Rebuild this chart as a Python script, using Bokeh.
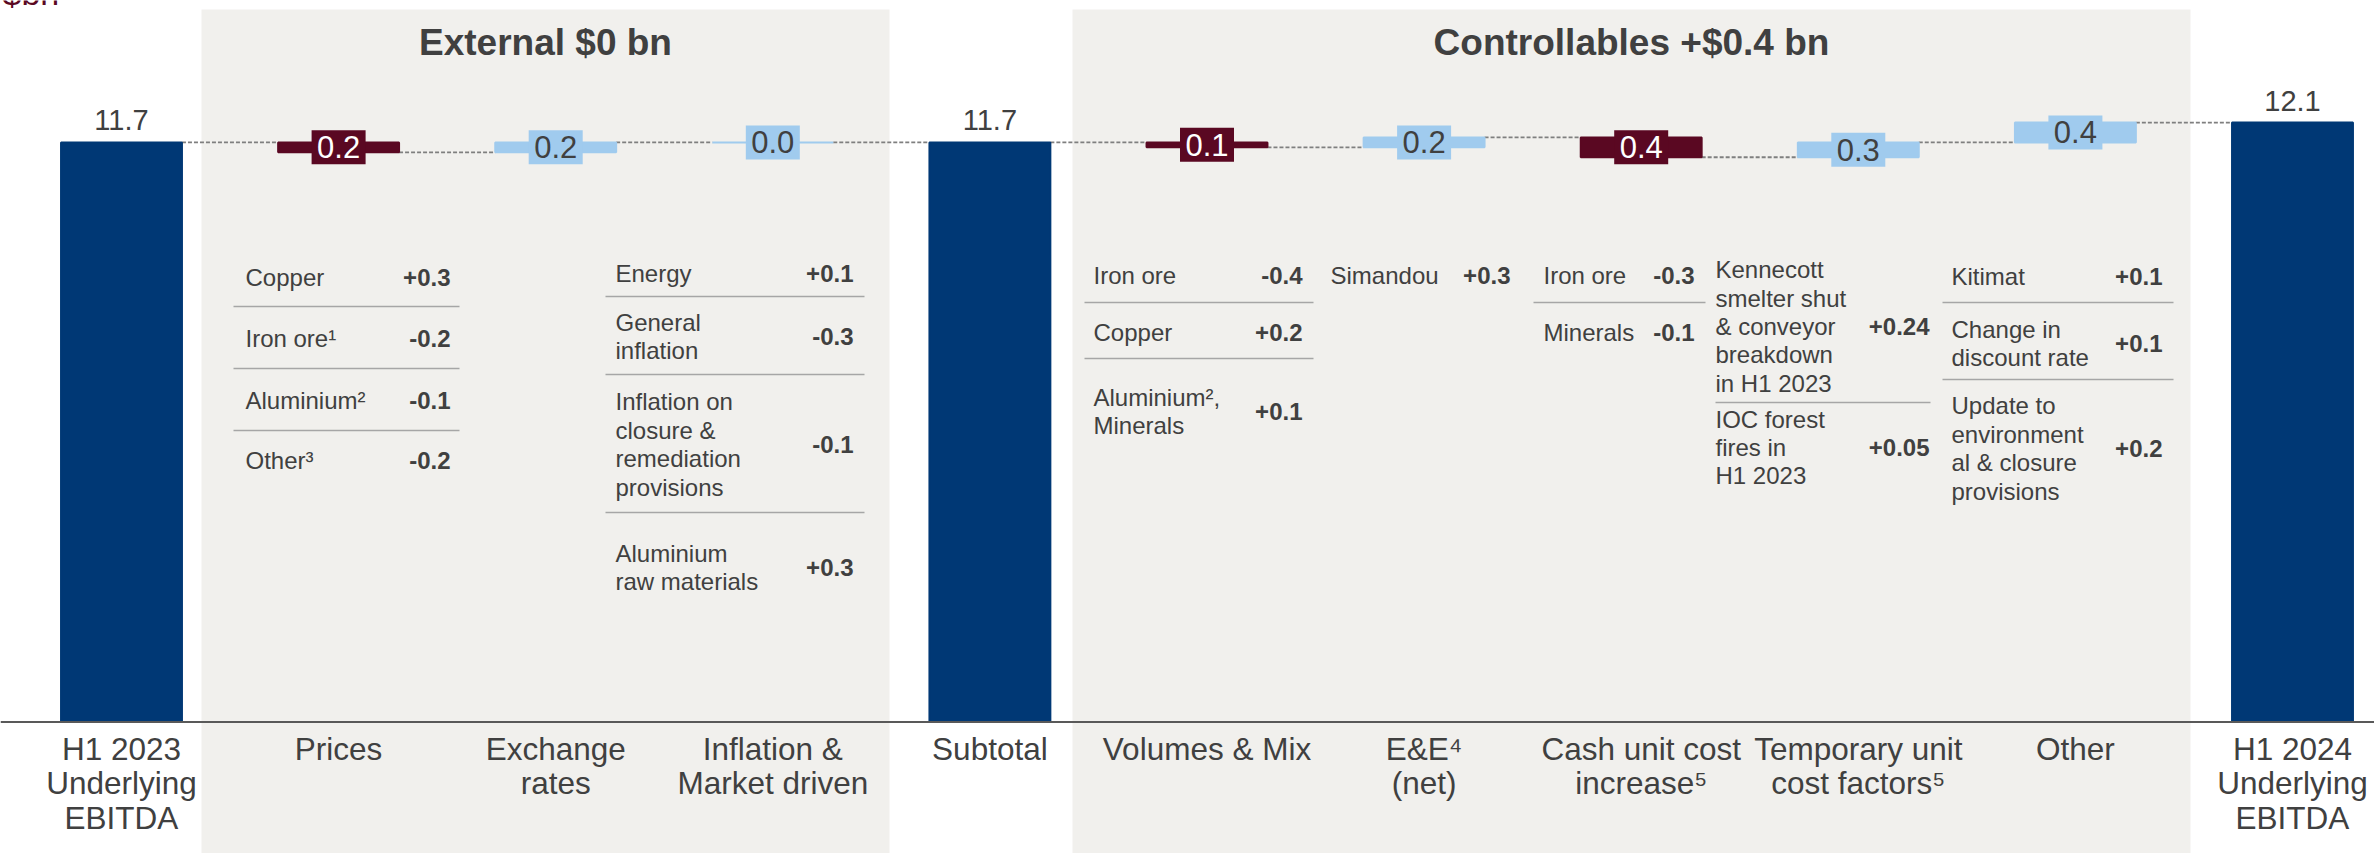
from bokeh.plotting import figure
from bokeh.models import Range1d, ColumnDataSource, Span
from bokeh.core.properties import value
from bokeh.embed import file_html
from bokeh.resources import INLINE

# ---------------- data ----------------
categories = ["H1 2023\nUnderlying\nEBITDA", "Prices", "Exchange\nrates", "Inflation &\nMarket driven",
              "Subtotal", "Volumes & Mix", "E&E\u2074\n(net)", "Cash unit cost\nincrease\u2075",
              "Temporary unit\ncost factors\u2075", "Other", "H1 2024\nUnderlying\nEBITDA"]
amounts = [11.7, -0.2, 0.2, 0.0, 11.7, -0.1, 0.2, -0.4, 0.3, 0.4, 12.1]
is_total = [True, False, False, False, True, False, False, False, False, False, True]

group_titles = ["External $0 bn", "Controllables +$0.4 bn"]
unit_label = "$bn"

prices_items = ["Copper", "Iron ore\u00b9", "Aluminium\u00b2", "Other\u00b3"]
prices_values = [0.3, -0.2, -0.1, -0.2]
inflation_items = ["Energy", "General\ninflation", "Inflation on\nclosure &\nremediation\nprovisions",
                   "Aluminium\nraw materials"]
inflation_values = [0.1, -0.3, -0.1, 0.3]
volumes_items = ["Iron ore", "Copper", "Aluminium\u00b2,\nMinerals"]
volumes_values = [-0.4, 0.2, 0.1]
ee_items = ["Simandou"]
ee_values = [0.3]
cash_items = ["Iron ore", "Minerals"]
cash_values = [-0.3, -0.1]
temporary_items = ["Kennecott\nsmelter shut\n& conveyor\nbreakdown\nin H1 2023", "IOC forest\nfires in\nH1 2023"]
temporary_values = [0.24, 0.05]
other_items = ["Kitimat", "Change in\ndiscount rate", "Update to\nenvironment\nal & closure\nprovisions"]
other_values = [0.1, 0.1, 0.2]

# ---------------- styles / layout ----------------
NAVY = "#003875"
DARKRED = "#5A0822"
LIGHTBLUE = "#A0CBEE"
PANEL = "#F1F0ED"
TXT = "#404040"
FONT = "Liberation Sans"
BAR_W = 0.557

W, H = 2374, 853
# pixel (in reference frame) -> data helpers
def dx(X):
    return (X - 121) / 217.1

def dy(Y):
    return (721.5 - Y) / 49.54

p = figure(width=W, height=H, output_backend="svg", toolbar_location=None,
           x_range=Range1d(dx(0), dx(W)), y_range=Range1d(dy(H), dy(0)),
           x_axis_location=None, y_axis_location=None, min_border=0)
p.grid.visible = False
p.outline_line_color = None
p.background_fill_color = "white"

# panels
p.quad(left=[dx(201), dx(1072)], right=[dx(889), dx(2190)], top=[dy(9), dy(9)],
       bottom=[dy(900), dy(900)], fill_color=PANEL, line_color=None)
p.text(x=[dx(545), dx(1631)], y=[dy(42), dy(42)], text=group_titles, text_font=value(FONT),
       text_font_size="37px", text_font_style="bold", text_color=TXT, text_align="center",
       text_baseline="middle")

# axis line
p.add_layout(Span(location=0, dimension="width", line_color="#595959", line_width=2))

# waterfall computation
xs = list(range(len(categories)))
bottoms, tops, ends, colors = [], [], [], []
running = 0.0
for a, t in zip(amounts, is_total):
    if t:
        b, tp = 0.0, a
    else:
        b, tp = running, running + a
    running = tp
    bottoms.append(b)
    tops.append(tp)
    ends.append(running)
    colors.append(NAVY if t else (DARKRED if a < 0 else LIGHTBLUE))

# connectors
p.segment(x0=[i + BAR_W / 2 for i in xs[:-1]], x1=[i + 1 - BAR_W / 2 for i in xs[:-1]],
          y0=ends[:-1], y1=ends[:-1], line_color="#7F7F7F", line_width=1.8, line_dash="4 2")

src = ColumnDataSource(dict(x=xs, bottom=bottoms, top=tops, color=colors))
p.vbar(x="x", bottom="bottom", top="top", width=BAR_W, fill_color="color", line_color="color",
       line_width=2, source=src)

# total labels
tx = [i for i, t in zip(xs, is_total) if t]
ty = [tp for tp, t in zip(tops, is_total) if t]
tl = [f"{a:.1f}" for a, t in zip(amounts, is_total) if t]
p.text(x=tx, y=ty, text=tl, y_offset=-22, text_font=value(FONT), text_font_size="29px",
       text_color=TXT, text_align="center", text_baseline="middle")

# delta label boxes
dxs = [i for i, t in zip(xs, is_total) if not t]
dmid = [(b + tp) / 2 for b, tp, t in zip(bottoms, tops, is_total) if not t]
dcol = [c for c, t in zip(colors, is_total) if not t]
dtxt = [f"{abs(a):.1f}" for a, t in zip(amounts, is_total) if not t]
dtc = ["white" if c == DARKRED else TXT for c in dcol]
p.rect(x=dxs, y=dmid, width=54, height=34, width_units="screen", height_units="screen",
       fill_color=dcol, line_color=None)
p.text(x=dxs, y=dmid, text=dtxt, text_color=dtc, text_font=value(FONT), text_font_size="31px",
       text_align="center", text_baseline="middle")

# category labels
p.text(x=xs, y=[dy(730)] * len(xs), text=categories, text_font=value(FONT), text_font_size="31.5px",
       text_color=TXT, text_align="center", text_baseline="top", text_line_height=0.97)

# unit label
p.text(x=[dx(2)], y=[dy(11)], text=[unit_label], text_font=value(FONT), text_font_size="34px",
       text_color=DARKRED, text_align="left", text_baseline="bottom")

# breakdown tables
tables = [
    (prices_items, prices_values, dict(lx=245, vx=450, x0=233, x1=459, rows=[277, 338, 400, 460], lines=[306, 368, 430])),
    (inflation_items, inflation_values, dict(lx=615, vx=853, x0=605, x1=864, rows=[273, 336, 444, 567], lines=[296, 374, 512])),
    (volumes_items, volumes_values, dict(lx=1093, vx=1302, x0=1084, x1=1313, rows=[275, 332, 411], lines=[302, 358])),
    (ee_items, ee_values, dict(lx=1330, vx=1510, x0=0, x1=0, rows=[275], lines=[])),
    (cash_items, cash_values, dict(lx=1543, vx=1694, x0=1533, x1=1705, rows=[275, 332], lines=[302])),
    (temporary_items, temporary_values, dict(lx=1715, vx=1929, x0=1715, x1=1930, rows=[326, 447], lines=[402])),
    (other_items, other_values, dict(lx=1951, vx=2162, x0=1942, x1=2173, rows=[276, 343, 448], lines=[302, 379])),
]
for items, vals, lay in tables:
    ry = [dy(r) for r in lay["rows"]]
    p.text(x=[dx(lay["lx"])] * len(items), y=ry, text=items, text_font=value(FONT),
           text_font_size="24px", text_color=TXT, text_align="left", text_baseline="middle",
           text_line_height=1.05)
    p.text(x=[dx(lay["vx"])] * len(vals), y=ry, text=[f"{v:+g}" for v in vals], text_font=value(FONT),
           text_font_size="24px", text_font_style="bold", text_color=TXT, text_align="right",
           text_baseline="middle")
    if lay["lines"]:
        ly = [dy(l) for l in lay["lines"]]
        p.segment(x0=[dx(lay["x0"])] * len(ly), x1=[dx(lay["x1"])] * len(ly), y0=ly, y1=ly,
                  line_color="#A6A6A6", line_width=1.5)

open("out.html", "w").write(file_html(p, INLINE))
